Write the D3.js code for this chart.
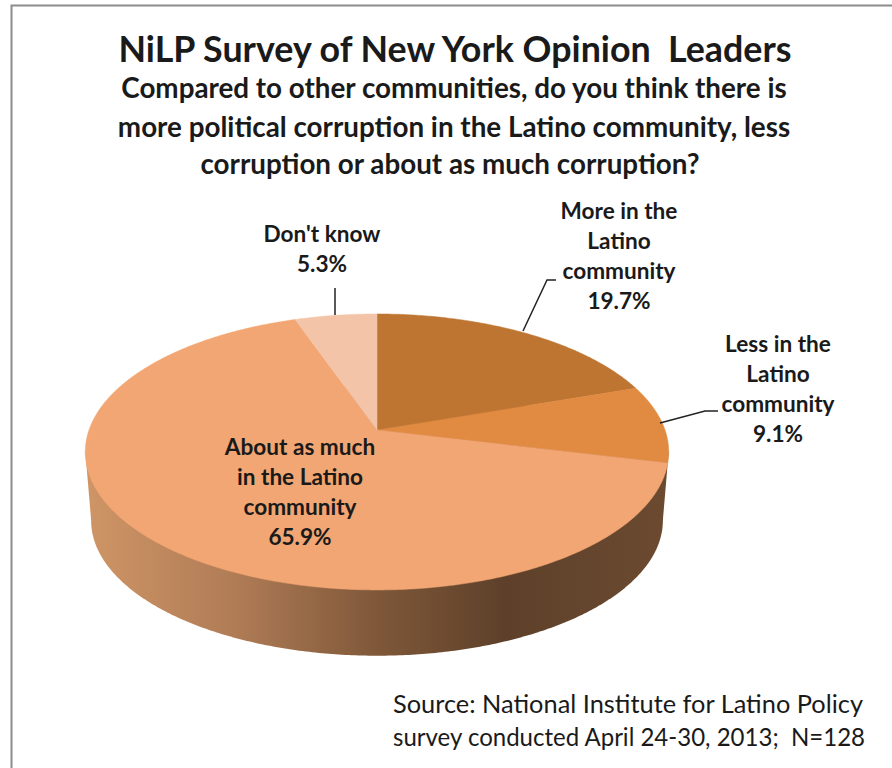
<!DOCTYPE html>
<html>
<head>
<meta charset="utf-8">
<script src="https://cdn.jsdelivr.net/npm/d3@7/dist/d3.min.js"></script>
<style>
html,body{margin:0;padding:0;background:#fff;overflow:hidden}
svg{display:block}
text{font-family:Lato,"Open Sans",sans-serif;fill:#1a1a1a;white-space:pre}
</style>
</head>
<body>
<svg id="chart" width="892" height="768"></svg>
<script>
const categories = ["More in the Latino community","Less in the Latino community","About as much in the Latino community","Don't know"];
const values = [19.7, 9.1, 65.9, 5.3];
const sliceColors = ["#bd7531","#e08a42","#f2a673","#f4c4a8"];
const labelLines = [
  ["More in the","Latino","community","19.7%"],
  ["Less in the","Latino","community","9.1%"],
  ["About as much","in the Latino","community","65.9%"],
  ["Don't know","5.3%"]
];
const labelAnchors = [[619,219],[778,352],[300,455],[322,242]];
const leaders = [
  [[523,331],[547,280],[556,280]],
  [[660,423],[705,411],[718,411]],
  null,
  [[335,315],[335,288]]
];
const titleText = "NiLP Survey of New York Opinion  Leaders";
const subtitleLines = ["Compared to other communities, do you think there is","more political corruption in the Latino community, less","corruption or about as much corruption?"];
const sourceLines = ["Source: National Institute for Latino Policy","survey conducted April 24-30, 2013;  N=128"];
const wallStops = [[0,"#cf9566"],[0.25,"#b17d57"],[0.5,"#7f5839"],[0.72,"#5e402a"],[1,"#6b4a30"]];

const svg = d3.select("#chart");
// frame
svg.append("path").attr("d","M11.5,768V5.5H892").attr("fill","none").attr("stroke","#8c8c8c").attr("stroke-width",2);

// perspective projection of a flat disc
const apex = [377,430], bx = 288, by = 134.5, k = -0.159;
const project = (a, s=1, dy=0) => {
  const u = Math.sin(a), v = -Math.cos(a), d = 1 + k*v;
  return [apex[0] + s*bx*u/d, apex[1] + s*by*v/d + dy];
};
const arcPoints = (a0,a1,s,dy) => {
  const n = Math.max(2, Math.ceil(Math.abs(a1-a0)/0.01));
  return d3.range(n+1).map(i => project(a0+(a1-a0)*i/n,s,dy));
};
const line = d3.line();
const wallScale = 0.98, wallDrop = 69;

// gradient wall
const defs = svg.append("defs");
const grad = defs.append("linearGradient").attr("id","wall").attr("gradientUnits","userSpaceOnUse")
  .attr("x1",84).attr("x2",669).attr("y1",0).attr("y2",0);
wallStops.forEach(s => grad.append("stop").attr("offset",s[0]).attr("stop-color",s[1]));

const full = arcPoints(0,2*Math.PI,1,0);
const lowFull = arcPoints(0,2*Math.PI,wallScale,wallDrop);
const rightTop = d3.greatest(full,p=>p[0]), leftTop = d3.least(full,p=>p[0]);
const rightLow = d3.greatest(lowFull,p=>p[0]), leftLow = d3.least(lowFull,p=>p[0]);
svg.append("path").attr("d",line(lowFull)+"Z").attr("fill","url(#wall)");
svg.append("path").attr("d",line([leftTop,leftLow,[apex[0],apex[1]+wallDrop],rightLow,rightTop,apex])+"Z").attr("fill","url(#wall)");

// top face
const pie = d3.pie().sort(null).value(d=>d);
const arcs = pie(values);
svg.append("g").selectAll("path").data(arcs).join("path")
  .attr("d",d => line([apex,...arcPoints(d.startAngle,d.endAngle,1,0)])+"Z")
  .attr("fill",(d,i)=>sliceColors[i])
  .attr("stroke",(d,i)=>sliceColors[i]).attr("stroke-width",0.5);

// leaders
svg.append("g").selectAll("path").data(leaders.filter(Boolean)).join("path")
  .attr("d",d=>line(d)).attr("fill","none").attr("stroke","#222").attr("stroke-width",1.5);

// labels
const lblLH = 30;
labelLines.forEach((lines,i)=>{
  const t = svg.append("text").attr("text-anchor","middle").attr("font-weight",700).attr("font-size",22.6);
  lines.forEach((l,j)=>t.append("tspan").attr("x",labelAnchors[i][0]).attr("y",labelAnchors[i][1]+j*lblLH).text(l));
});

// titles
svg.append("text").attr("x",455).attr("y",62).attr("text-anchor","middle").attr("font-weight",700).attr("font-size",35.8).attr("fill","#111").text(titleText);
subtitleLines.forEach((l,i)=>{
  svg.append("text").attr("x",[454,454,450][i]).attr("y",[98,137,174][i]).attr("text-anchor","middle").attr("font-weight",700).attr("font-size",27.8).text(l);
});
sourceLines.forEach((l,i)=>{
  svg.append("text").attr("x",393).attr("y",[713,746][i]).attr("font-size",25).attr("font-weight",400)
    .attr("textLength",[470,472][i]).attr("lengthAdjust","spacingAndGlyphs").text(l);
});
</script>
</body>
</html>
